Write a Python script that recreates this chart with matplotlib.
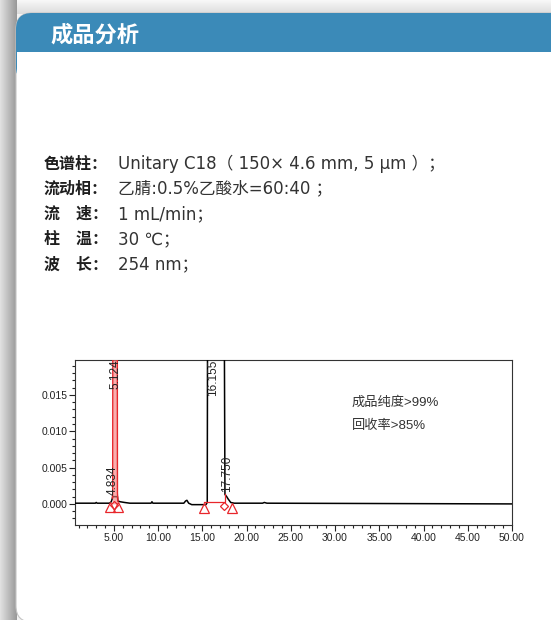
import numpy as np
import matplotlib
matplotlib.use("Agg")
import matplotlib.pyplot as plt
from matplotlib.patches import FancyBboxPatch, Rectangle
from matplotlib.ticker import MultipleLocator, FormatStrFormatter

plt.rcParams['font.family'] = ['Noto Sans CJK SC', 'DejaVu Sans']
LATIN = ['Liberation Sans', 'Noto Sans CJK SC', 'DejaVu Sans']
WIDE = ['DejaVu Sans', 'Noto Sans CJK SC']

# ---------------- data ----------------
title_text = "成品分析"
cond_labels = ["色谱柱：", "流动相：", "流\u3000速：", "柱\u3000温：", "波\u3000长："]
cond_values = ["Unitary C18（ 150× 4.6 mm, 5 μm ）；",
               "乙腈:0.5%乙酸水=60:40 ；",
               "1 mL/min；",
               "30 ℃；",
               "254 nm；"]

# chromatogram trace (time min, absorbance AU)
trace_t = [0.6, 2.9, 3.0, 3.1, 4.5, 4.7, 4.83, 4.86, 5.40, 5.45, 5.7, 6.2, 6.8,
           9.2, 9.3, 9.4, 12.9, 13.1, 13.25, 13.45, 13.8, 15.4, 15.55, 15.62,
           16.155, 17.40, 17.55, 17.75, 17.9, 18.2, 18.6, 21.8, 22.0, 22.3, 50.0]
trace_y = [0.0001, 0.0001, 0.0002, 0.0001, 0.0001, 0.0003, 0.0008, 0.0010,
           0.0010, 0.0004, 0.0003, 0.0002, 0.0001, 0.0001, 0.0003, 0.0001,
           0.0001, 0.0004, 0.0005, 0.0001, -0.0001, -0.0001, 0.0002, 0.05,
           0.06, 0.05, 0.0013, 0.0010, 0.0007, 0.0002, 0.0001, 0.0001, 0.0002,
           0.0001, 0.0]

# integrated (red) peak region
red_t = [4.83, 4.86, 4.90, 5.124, 5.36, 5.40, 5.45]
red_y = [0.0008, 0.0015, 0.05, 0.06, 0.05, 0.0015, 0.0004]

peak_rt = [4.834, 5.124, 16.155, 17.750]
peak_lbl = ["4.834", "5.124", "16.155", "17.750"]
peak_lbl_y = [0.0012, 0.0199, 0.0199, 0.0016]
peak_lbl_top = [False, True, True, False]

tri_t = [4.6, 5.5, 15.15, 18.3]
tri_y = [-0.0004, -0.0004, -0.0005, -0.0005]
dia_t = [5.05, 17.45]
dia_y = [-0.0002, -0.0003]
base_t = [15.15, 17.55, 17.55]
base_y = [0.0002, 0.0002, 0.0013]

ann_lines = ["成品纯度>99%", "回收率>85%"]
ann_y = [0.0140, 0.0107]

xmin, xmax = 0.6, 50.0
ymin, ymax = -0.0029, 0.0198

# ---------------- figure ----------------
W, H = 551, 620
fig = plt.figure(figsize=(W / 100, H / 100), dpi=100)
fig.patch.set_facecolor("#f3f3f3")

bg = fig.add_axes([0, 0, 1, 1], zorder=0)
bg.set_xlim(0, W)
bg.set_ylim(H, 0)
bg.axis("off")

top_grad = np.linspace(0.97, 0.86, 20).reshape(-1, 1)
bg.imshow(np.repeat(top_grad, 2, axis=1), cmap="gray", vmin=0, vmax=1,
          extent=[0, W, 14, 0], aspect="auto", zorder=0)
left_grad = np.linspace(0.88, 0.60, 20).reshape(1, -1)
bg.imshow(np.repeat(left_grad, 2, axis=0), cmap="gray", vmin=0, vmax=1,
          extent=[0, 17, H, 0], aspect="auto", zorder=0)

card = FancyBboxPatch((16, 13), 700, 609, boxstyle="round,pad=0,rounding_size=16",
                      fc="white", ec="#c4c4c4", lw=0.8, zorder=1)
bg.add_patch(card)
header = FancyBboxPatch((16, 13), 700, 70, boxstyle="round,pad=0,rounding_size=16",
                        fc="#3b8ab8", ec="none", zorder=2)
bg.add_patch(header)
bg.add_patch(Rectangle((16.5, 52), 700, 40, fc="white", ec="none", zorder=3))

bg.text(50, 35, title_text, color="white", fontsize=16, fontweight="bold",
        ha="left", va="center", zorder=4)

for i, (lab, val) in enumerate(zip(cond_labels, cond_values)):
    yy = 163.5 + 25.2 * i
    bg.text(44, yy, lab, fontsize=11.5, fontweight="bold", color="#1e1e1e",
            ha="left", va="center", zorder=4)
    bg.text(118, yy, val, fontsize=12, color="#333333", family=WIDE,
            ha="left", va="center", zorder=4)

# ---------------- chart ----------------
ax_l, ax_r, ax_t, ax_b = 75, 512, 360, 525
ax = fig.add_axes([ax_l / W, 1 - ax_b / H, (ax_r - ax_l) / W, (ax_b - ax_t) / H],
                  zorder=5)
ax.set_facecolor("none")
ax.set_xlim(xmin, xmax)
ax.set_ylim(ymin, ymax)

ax.plot(trace_t, trace_y, color="black", lw=1.1, zorder=4)
ax.fill_between(red_t, 0, red_y, color="#f47a7a", alpha=0.6, lw=0, zorder=5)
ax.plot(red_t, red_y, color="#e8262b", lw=1.0, zorder=6)
ax.plot(base_t, base_y, color="#e8262b", lw=0.9, zorder=6)
ax.plot(tri_t, tri_y, ls="none", marker="^", ms=7, mfc="none", mec="#e8262b",
        mew=0.9, zorder=7)
ax.plot(dia_t, dia_y, ls="none", marker="D", ms=4.5, mfc="none", mec="#e8262b",
        mew=0.9, zorder=7)

for t, lbl, yv, top in zip(peak_rt, peak_lbl, peak_lbl_y, peak_lbl_top):
    ax.text(t, yv, lbl, rotation=90, fontsize=8.5, family="Liberation Sans",
            ha="center", va="top" if top else "bottom", color="#222222",
            clip_on=True, zorder=8)

for txt, yv in zip(ann_lines, ann_y):
    ax.text(31.9, yv, txt, fontsize=9.5, color="#333333", family=LATIN,
            ha="left", va="center", zorder=8)

ax.xaxis.set_major_locator(MultipleLocator(5))
ax.xaxis.set_minor_locator(MultipleLocator(1))
ax.xaxis.set_major_formatter(FormatStrFormatter("%.2f"))
ax.yaxis.set_major_locator(MultipleLocator(0.005))
ax.yaxis.set_minor_locator(MultipleLocator(0.001))
ax.yaxis.set_major_formatter(FormatStrFormatter("%.3f"))
ax.tick_params(axis="both", which="both", direction="out", color="#222222",
               labelsize=7.5, labelcolor="#222222", width=0.8)
ax.tick_params(axis="both", which="major", length=4, pad=1.5)
ax.tick_params(axis="both", which="minor", length=2.5)
for lab in ax.get_xticklabels() + ax.get_yticklabels():
    lab.set_family("Liberation Sans")
for s in ax.spines.values():
    s.set_linewidth(0.8)
    s.set_color("#333333")

fig.savefig("out.png", dpi=100)
